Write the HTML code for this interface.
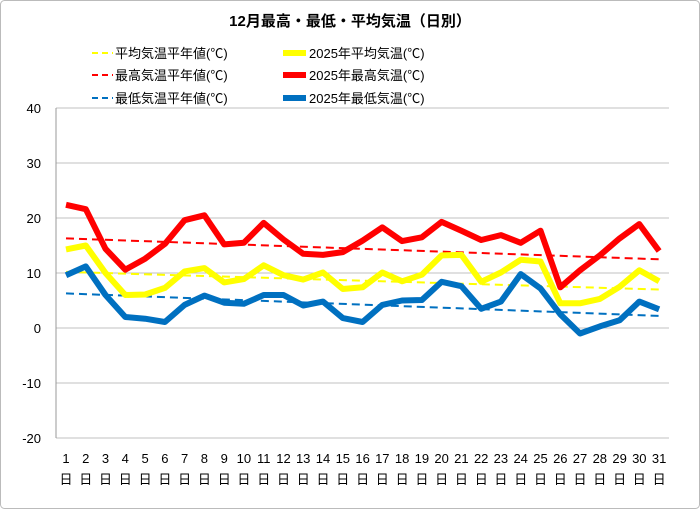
<!DOCTYPE html><html><head><meta charset="utf-8"><style>body{margin:0;background:#fff}svg{display:block}</style></head><body>
<svg width="700" height="509" xmlns="http://www.w3.org/2000/svg" font-family="'Liberation Sans','Noto Sans CJK JP',sans-serif">
<rect x="0.5" y="0.5" width="699" height="508" rx="4" fill="#fff" stroke="#bbb"/>
<text x="350" y="26" text-anchor="middle" font-size="15" font-weight="bold">12月最高・最低・平均気温（日別）</text>
<g font-size="13">
<line x1="92" y1="53" x2="113" y2="53" stroke="#ffff00" stroke-width="2" stroke-dasharray="6,4"/><text x="115" y="58">平均気温平年値(℃)</text>
<line x1="92" y1="75" x2="113" y2="75" stroke="#ff0000" stroke-width="2" stroke-dasharray="6,4"/><text x="115" y="80">最高気温平年値(℃)</text>
<line x1="92" y1="98" x2="113" y2="98" stroke="#0070c0" stroke-width="2" stroke-dasharray="6,4"/><text x="115" y="103">最低気温平年値(℃)</text>
<line x1="283" y1="53" x2="306" y2="53" stroke="#ffff00" stroke-width="6"/><text x="309" y="58">2025年平均気温(℃)</text>
<line x1="283" y1="75" x2="306" y2="75" stroke="#ff0000" stroke-width="6"/><text x="309" y="80">2025年最高気温(℃)</text>
<line x1="283" y1="98" x2="306" y2="98" stroke="#0070c0" stroke-width="6"/><text x="309" y="103">2025年最低気温(℃)</text>
</g>
<g stroke="#c0c0c0" stroke-width="1">
<line x1="56" y1="108" x2="669" y2="108"/><line x1="56" y1="163" x2="669" y2="163"/><line x1="56" y1="218" x2="669" y2="218"/><line x1="56" y1="273" x2="669" y2="273"/><line x1="56" y1="328" x2="669" y2="328"/><line x1="56" y1="383" x2="669" y2="383"/><line x1="56" y1="438" x2="669" y2="438"/>
<line x1="56" y1="108" x2="56" y2="438" stroke="#999"/>
</g>
<g font-size="13" text-anchor="end">
<text x="41" y="113">40</text><text x="41" y="168">30</text><text x="41" y="223">20</text><text x="41" y="278">10</text><text x="41" y="333">0</text><text x="41" y="388">-10</text><text x="41" y="443">-20</text>
</g>
<g font-size="13" text-anchor="middle">
<text x="66" y="463">1</text><text x="85.8" y="463">2</text><text x="105.5" y="463">3</text><text x="125.3" y="463">4</text><text x="145.1" y="463">5</text><text x="164.9" y="463">6</text><text x="184.6" y="463">7</text><text x="204.4" y="463">8</text><text x="224.2" y="463">9</text><text x="243.9" y="463">10</text><text x="263.7" y="463">11</text><text x="283.5" y="463">12</text><text x="303.2" y="463">13</text><text x="323" y="463">14</text><text x="342.8" y="463">15</text><text x="362.6" y="463">16</text><text x="382.3" y="463">17</text><text x="402.1" y="463">18</text><text x="421.9" y="463">19</text><text x="441.6" y="463">20</text><text x="461.4" y="463">21</text><text x="481.2" y="463">22</text><text x="500.9" y="463">23</text><text x="520.7" y="463">24</text><text x="540.5" y="463">25</text><text x="560.3" y="463">26</text><text x="580" y="463">27</text><text x="599.8" y="463">28</text><text x="619.6" y="463">29</text><text x="639.3" y="463">30</text><text x="659.1" y="463">31</text>
<text x="66" y="484">日</text><text x="85.8" y="484">日</text><text x="105.5" y="484">日</text><text x="125.3" y="484">日</text><text x="145.1" y="484">日</text><text x="164.9" y="484">日</text><text x="184.6" y="484">日</text><text x="204.4" y="484">日</text><text x="224.2" y="484">日</text><text x="243.9" y="484">日</text><text x="263.7" y="484">日</text><text x="283.5" y="484">日</text><text x="303.2" y="484">日</text><text x="323" y="484">日</text><text x="342.8" y="484">日</text><text x="362.6" y="484">日</text><text x="382.3" y="484">日</text><text x="402.1" y="484">日</text><text x="421.9" y="484">日</text><text x="441.6" y="484">日</text><text x="461.4" y="484">日</text><text x="481.2" y="484">日</text><text x="500.9" y="484">日</text><text x="520.7" y="484">日</text><text x="540.5" y="484">日</text><text x="560.3" y="484">日</text><text x="580" y="484">日</text><text x="599.8" y="484">日</text><text x="619.6" y="484">日</text><text x="639.3" y="484">日</text><text x="659.1" y="484">日</text>
</g>
<g fill="none" stroke-linejoin="round">
<line x1="66" y1="271.9" x2="659.1" y2="289.5" stroke="#ffff00" stroke-width="2" stroke-dasharray="8,5"/>
<line x1="66" y1="238.4" x2="659.1" y2="259.3" stroke="#ff0000" stroke-width="2" stroke-dasharray="8,5"/>
<line x1="66" y1="293.4" x2="659.1" y2="315.9" stroke="#0070c0" stroke-width="2" stroke-dasharray="8,5"/>
<polyline stroke="#ffff00" stroke-width="6" points="66,249.4 85.8,245.5 105.5,273 125.3,295 145.1,294.5 164.9,287.9 184.6,271.4 204.4,268.1 224.2,282.4 243.9,279.1 263.7,265.3 283.5,275.2 303.2,279.6 323,272.5 342.8,289 362.6,287.3 382.3,272.5 402.1,281.3 421.9,274.7 441.6,255.4 461.4,254.9 481.2,281.8 500.9,272.5 520.7,259.8 540.5,261.5 560.3,303.3 580,303.3 599.8,298.9 619.6,286.8 639.3,270.3 659.1,281.3"/>
<polyline stroke="#ff0000" stroke-width="6" points="66,204.8 85.8,209.2 105.5,248.8 125.3,269.7 145.1,258.7 164.9,243.9 184.6,220.2 204.4,215.3 224.2,244.4 243.9,242.8 263.7,222.9 283.5,239.5 303.2,253.8 323,254.9 342.8,252.1 362.6,240.6 382.3,227.4 402.1,241.1 421.9,237.3 441.6,221.9 461.4,230.7 481.2,240 500.9,235.1 520.7,242.8 540.5,230.7 560.3,287.3 580,270.3 599.8,255.4 619.6,238.4 639.3,224.1 659.1,251"/>
<polyline stroke="#0070c0" stroke-width="6" points="66,275.2 85.8,266.4 105.5,295 125.3,317 145.1,318.7 164.9,322 184.6,304.9 204.4,295.6 224.2,302.7 243.9,303.8 263.7,295 283.5,295 303.2,305.5 323,301.6 342.8,318.1 362.6,322 382.3,304.9 402.1,300.5 421.9,300 441.6,281.8 461.4,286.2 481.2,308.8 500.9,301.6 520.7,274.1 540.5,288.4 560.3,314.3 580,333.5 599.8,326.4 619.6,320.3 639.3,301.6 659.1,309.3"/>
</g>
</svg></body></html>
